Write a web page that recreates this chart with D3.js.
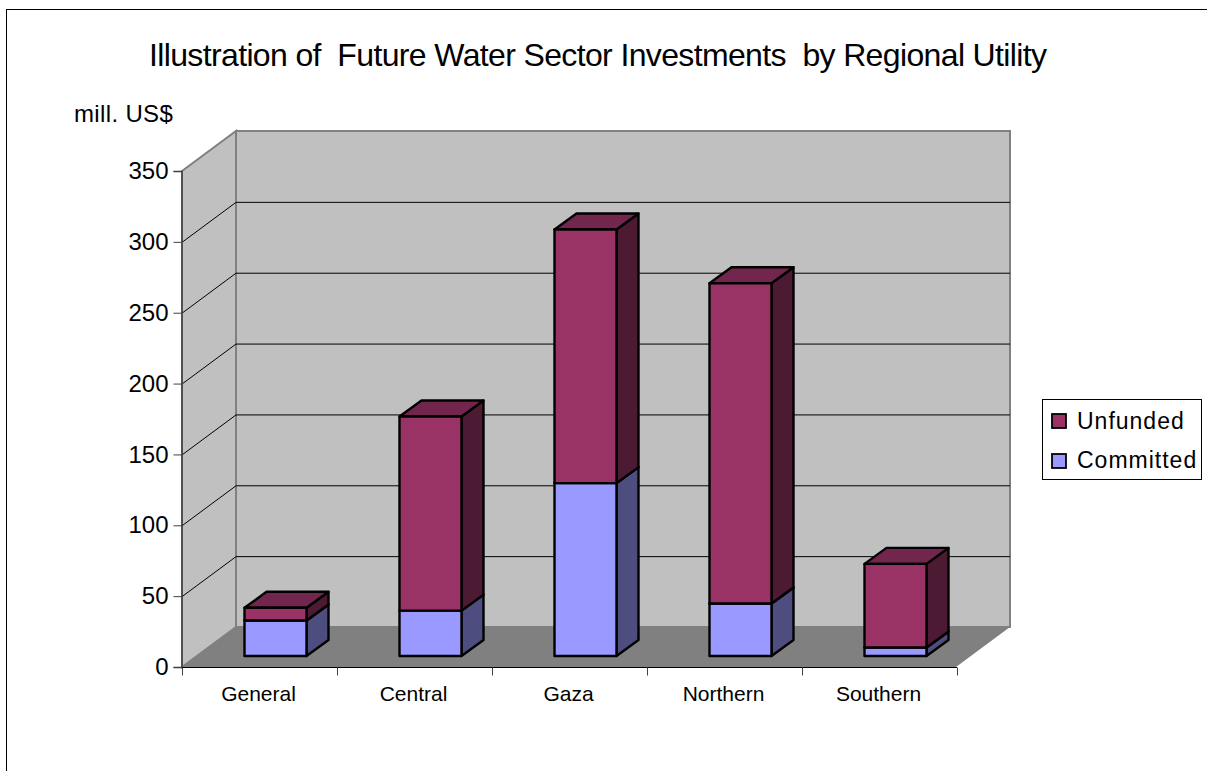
<!DOCTYPE html>
<html><head><meta charset="utf-8">
<script src="https://cdn.jsdelivr.net/npm/d3@7"></script>
<style>html,body{margin:0;background:#fff}svg{display:block}text{font-family:"Liberation Sans",Arial,sans-serif;fill:#000}</style>
</head><body><div id="chart"></div>
<script>
const categories = ["General","Central","Gaza","Northern","Southern"];
const committed = [25,32,122,37,6];
const unfunded = [9,137,179,226,59];
const yTicks = [0,50,100,150,200,250,300,350];
const legendItems = ["Unfunded","Committed"];
const colors = {Unfunded:["#993366","#4d1a33","#73264d"],Committed:["#9999ff","#4d4d80","#7373bf"]};

const W=1207,H=771;
const svg=d3.select("#chart").append("svg").attr("width",W).attr("height",H);
svg.append("rect").attr("x",6.5).attr("y",9.5).attr("width",W+20).attr("height",H+20).attr("fill","#fff").attr("stroke","#000").attr("stroke-width",1);

svg.append("text").attr("x",598).attr("y",66).attr("text-anchor","middle").attr("font-size",32).attr("textLength",898).attr("lengthAdjust","spacing").attr("xml:space","preserve").text("Illustration of  Future Water Sector Investments  by Regional Utility");
svg.append("text").attr("x",74).attr("y",122).attr("font-size",24).style("letter-spacing","0.35px").text("mill. US$");

const y=d3.scaleLinear().domain([0,350]).range([667,171]);
const x=d3.scaleBand().domain(categories).range([182,957]);
// Oblique depth of the 3D box, in pixels, for the whole plot and for one bar
const depth=[54,-40], barDepth=[22,-16], barInset=[15.5,-11], barW=62;
const poly=pts=>pts.map(p=>p.join(",")).join(" ");

// Walls and floor
const x0=182,x1=957,yb=y(0),yt=y(350);
const wall="#c0c0c0", wallEdge="#808080";
svg.append("polygon").attr("points",poly([[x0+depth[0],yt+depth[1]],[x1+depth[0]-1,yt+depth[1]],[x1+depth[0]-1,yb+depth[1]],[x0+depth[0],yb+depth[1]]])).attr("fill",wall).attr("stroke",wallEdge).attr("stroke-width",2);
svg.append("polygon").attr("points",poly([[x0,yt],[x0+depth[0],yt+depth[1]],[x0+depth[0],yb+depth[1]],[x0,yb]])).attr("fill",wall).attr("stroke",wallEdge).attr("stroke-width",2);
svg.append("polygon").attr("points",poly([[x0,yb],[x0+depth[0],yb+depth[1]],[x1+depth[0]-1,yb+depth[1]],[x1-1,yb]])).attr("fill","#808080");

// Gridlines running along the side wall and across the back wall
yTicks.filter(v=>v>0&&v<350).forEach(v=>{
  const py=y(v)+.5;
  svg.append("path").attr("fill","none").attr("stroke","#000").attr("stroke-width",1)
    .attr("d",`M${x0},${py}L${x0+depth[0]},${py+depth[1]}L${x1+depth[0]-1},${py+depth[1]}`);
});

// Value axis
const yAxis=d3.axisLeft(y).tickValues(yTicks).tickSize(8).tickPadding(5).tickFormat(d3.format("d"));
const gy=svg.append("g").attr("transform",`translate(${x0-.5},0)`).call(yAxis);
gy.select(".domain").attr("stroke","#404040").attr("stroke-width",1.5);
gy.selectAll(".tick line").attr("stroke","#404040");
gy.selectAll("text").attr("font-size",24);

// Category axis
const gx=svg.append("g").attr("transform",`translate(0,${yb+.5})`);
gx.append("line").attr("x1",x0).attr("x2",x1).attr("stroke","#000");
x.domain().concat([null]).forEach((c,i)=>{
  const px=Math.round(x0+i*x.step())+.5;
  gx.append("line").attr("x1",px).attr("x2",px).attr("y1",0).attr("y2",8).attr("stroke","#404040");
});
categories.forEach(c=>{
  gx.append("text").attr("x",x(c)+x.bandwidth()/2-1).attr("y",33).attr("text-anchor","middle").attr("font-size",21).text(c);
});

// Stacked 3D bars
const stack=categories.map((c,i)=>({c,segs:[
  {key:"Committed",lo:0,hi:committed[i]},
  {key:"Unfunded",lo:committed[i],hi:committed[i]+unfunded[i]}]}));
const base=y(0)+barInset[1];
const vy=v=>base-(y(0)-y(v));
stack.forEach(b=>{
  const l=x(b.c)+x.bandwidth()/2+barInset[0]-barW/2+.5, r=l+barW;
  const [dx,dy]=barDepth;
  b.segs.forEach(s=>{
    const t=vy(s.hi), bt=vy(s.lo), col=colors[s.key];
    const g=svg.append("g").attr("stroke","#000").attr("stroke-width",2.4).attr("stroke-linejoin","round");
    g.append("polygon").attr("points",poly([[r,bt],[r+dx,bt+dy],[r+dx,t+dy],[r,t]])).attr("fill",col[1]);
    g.append("polygon").attr("points",poly([[l,t],[r,t],[r+dx,t+dy],[l+dx,t+dy]])).attr("fill",col[2]);
    g.append("rect").attr("x",l).attr("y",t).attr("width",barW).attr("height",bt-t).attr("fill",col[0]);
  });
});

// Legend
const lg=svg.append("g");
lg.append("rect").attr("x",1042.5).attr("y",399.5).attr("width",159).attr("height",80).attr("fill","#fff").attr("stroke","#000");
legendItems.forEach((k,i)=>{
  lg.append("rect").attr("x",1052).attr("y",414+i*40).attr("width",14).attr("height",14).attr("fill",colors[k][0]).attr("stroke","#000").attr("stroke-width",1.8);
  lg.append("text").attr("x",1077).attr("y",429+i*39).attr("font-size",23).style("letter-spacing","1px").text(k);
});
</script></body></html>
